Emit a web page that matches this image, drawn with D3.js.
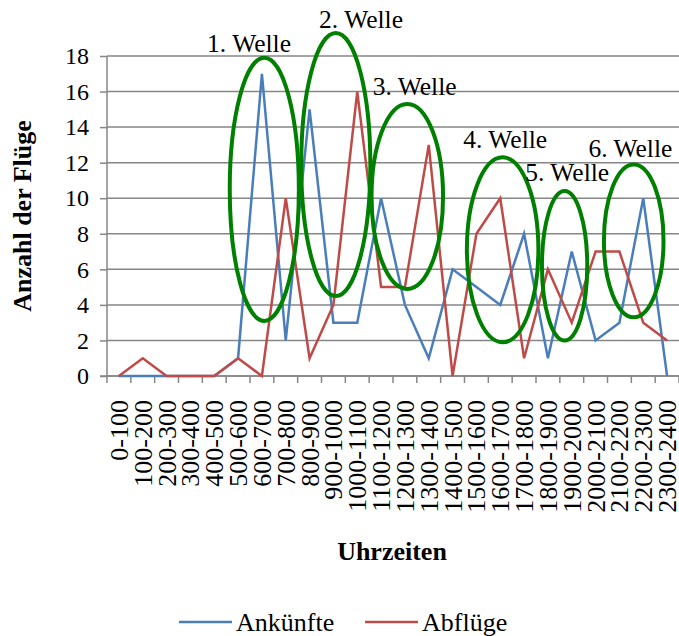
<!DOCTYPE html>
<meta charset="utf-8">
<body style="margin:0;background:#fff">
<div id="my_dataviz"></div>
<script src="https://cdn.jsdelivr.net/npm/d3@7"></script>
<script>
// data
var categories = ["0-100","100-200","200-300","300-400","400-500","500-600","600-700","700-800",
  "800-900","900-1000","1000-1100","1100-1200","1200-1300","1300-1400","1400-1500","1500-1600",
  "1600-1700","1700-1800","1800-1900","1900-2000","2000-2100","2100-2200","2200-2300","2300-2400"];
var ankuenfte = [0,0,0,0,0,1,17,2,15,3,3,10,4,1,6,5,4,8,1,7,2,3,10,0];
var abfluege  = [0,1,0,0,0,1,0,10,1,4,16,5,5,13,0,8,10,1,6,3,7,7,3,2];
var yTicks = [0,2,4,6,8,10,12,14,16,18];

// wave ellipses: centre (category index, value), radii (categories, value units), label spot
var wellen = [
  {label:"1. Welle", ci:6.6,  cv:10.5, rx:1.45, ry:7.4, lx:4.2,  lv:18.2},
  {label:"2. Welle", ci:9.6,  cv:11.9, rx:1.45, ry:7.4, lx:8.9,  lv:19.6},
  {label:"3. Welle", ci:12.6, cv:10.1, rx:1.5,  ry:5.2, lx:11.15,lv:15.8},
  {label:"4. Welle", ci:16.6, cv:7.1,  rx:1.5,  ry:5.2, lx:14.95,lv:12.8},
  {label:"5. Welle", ci:19.2, cv:6.2,  rx:0.95, ry:4.2, lx:17.55,lv:10.95},
  {label:"6. Welle", ci:22.1, cv:7.6,  rx:1.25, ry:4.3, lx:20.2, lv:12.3}
];

var serif = "'Liberation Serif', 'Times New Roman', Times, serif";

var margin = {top: 56, right: 0, bottom: 260, left: 107},
    width = 679 - margin.left - margin.right,
    height = 636 - margin.top - margin.bottom;

var svg = d3.select("#my_dataviz")
  .append("svg")
    .attr("width", 679)
    .attr("height", 636)
  .append("g")
    .attr("transform", "translate(" + margin.left + "," + margin.top + ")");

var x = d3.scaleBand().domain(categories).range([0, width]);
var xi = d3.scaleLinear().domain([0, categories.length]).range([0, width]);
var y = d3.scaleLinear().domain([0, 18]).range([height, 0]);

var grey = "#868686";

// gridlines
svg.append("g").selectAll("line").data(yTicks).enter().append("line")
  .attr("x1", 0).attr("x2", width)
  .attr("y1", function(d){ return y(d); }).attr("y2", function(d){ return y(d); })
  .attr("stroke", grey).attr("stroke-width", 1.5);

// Y axis
var ya = svg.append("g").call(d3.axisLeft(y).tickValues(yTicks).tickSize(7).tickPadding(11));
ya.attr("font-family", serif).attr("font-size", 24);
ya.select(".domain").attr("stroke", grey).attr("stroke-width", 1.5).attr("d", "M0," + height + "V0");
ya.selectAll(".tick line").attr("stroke", grey).attr("stroke-width", 1.5);
ya.selectAll("text").attr("fill", "#000");

// X axis, ticks between the categories
var xa = svg.append("g").attr("transform", "translate(0," + height + ")");
xa.append("line").attr("x1", -7).attr("x2", width).attr("y1", 0).attr("y2", 0)
  .attr("stroke", grey).attr("stroke-width", 1.5);
xa.selectAll(".tk").data(d3.range(categories.length + 1)).enter().append("line")
  .attr("x1", function(d){ return xi(d); }).attr("x2", function(d){ return xi(d); })
  .attr("y1", 0).attr("y2", 7).attr("stroke", grey).attr("stroke-width", 1.5);
xa.selectAll(".lbl").data(categories).enter().append("text")
  .attr("transform", function(d){ return "translate(" + (x(d) + x.bandwidth()/2 + 9) + ",24) rotate(-90)"; })
  .attr("text-anchor", "end")
  .attr("font-family", serif)
  .attr("font-size", 26)
  .text(function(d){ return d; });

// lines
var line = d3.line()
  .x(function(d, i){ return x(categories[i]) + x.bandwidth()/2; })
  .y(function(d){ return y(d); });
svg.append("path").datum(ankuenfte).attr("fill", "none")
  .attr("stroke", "#4a7ebb").attr("stroke-width", 2.5).attr("d", line);
svg.append("path").datum(abfluege).attr("fill", "none")
  .attr("stroke", "#be4b48").attr("stroke-width", 2.5).attr("d", line);

// wave annotations
var wg = svg.append("g");
wg.selectAll("ellipse").data(wellen).enter().append("ellipse")
  .attr("cx", function(d){ return xi(d.ci); })
  .attr("cy", function(d){ return y(d.cv); })
  .attr("rx", function(d){ return xi(d.rx) - xi(0); })
  .attr("ry", function(d){ return y(0) - y(d.ry); })
  .attr("fill", "none").attr("stroke", "#008000").attr("stroke-width", 4);
wg.selectAll("text").data(wellen).enter().append("text")
  .attr("x", function(d){ return xi(d.lx); })
  .attr("y", function(d){ return y(d.lv); })
  .attr("font-family", serif)
  .attr("font-size", 25.5)
  .text(function(d){ return d.label; });

// axis titles
svg.append("text")
  .attr("transform", "translate(" + (-margin.left + 31) + "," + (height/2) + ") rotate(-90)")
  .attr("text-anchor", "middle").attr("font-weight", "bold")
  .attr("font-family", serif).attr("font-size", 26)
  .text("Anzahl der Flüge");
svg.append("text")
  .attr("x", 392 - margin.left).attr("y", 560 - margin.top)
  .attr("text-anchor", "middle").attr("font-weight", "bold")
  .attr("font-family", serif).attr("font-size", 26)
  .text("Uhrzeiten");

// legend
var legend = [{name:"Ankünfte", color:"#4a7ebb", x:179}, {name:"Abflüge", color:"#be4b48", x:365}];
var lg = svg.append("g").attr("transform", "translate(" + (-margin.left) + "," + (-margin.top) + ")");
lg.selectAll("line").data(legend).enter().append("line")
  .attr("x1", function(d){ return d.x; }).attr("x2", function(d){ return d.x + 53; })
  .attr("y1", 622).attr("y2", 622)
  .attr("stroke", function(d){ return d.color; }).attr("stroke-width", 2.5);
lg.selectAll("text").data(legend).enter().append("text")
  .attr("x", function(d){ return d.x + 57; }).attr("y", 631)
  .attr("font-family", serif)
  .attr("font-size", 26)
  .text(function(d){ return d.name; });
</script>
</body>
